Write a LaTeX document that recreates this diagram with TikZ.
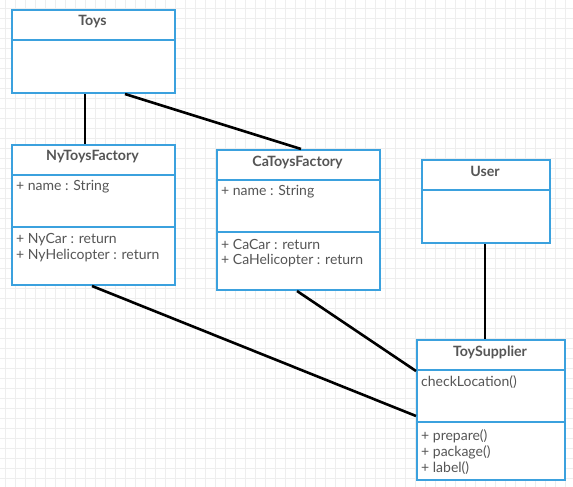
\documentclass[tikz,border=0pt]{standalone}
\usepackage{fontspec}
\setmainfont{Lato}
\usetikzlibrary{positioning}
\definecolor{umlblue}{RGB}{59,161,222}
\definecolor{umltext}{RGB}{85,85,85}
\definecolor{gridgray}{RGB}{238,238,238}
\tikzset{
  classbox/.style={draw=umlblue, line width=2pt, fill=white, anchor=north west, inner sep=0pt},
  title/.style={text=umltext, font=\fontsize{14.2}{16}\selectfont\bfseries},
  member/.style={text=umltext, font=\fontsize{14}{16}\selectfont, anchor=west, inner sep=0pt},
  link/.style={line width=2.6pt, black}
}
\begin{document}
\begin{tikzpicture}[x=1pt,y=-1pt]
        \useasboundingbox (0,0) rectangle (573,487);
        % background grid
        \foreach \gx in {5,15,...,575}
            \draw[gridgray, line width=0.8pt] (\gx,0) -- (\gx,487);
        \foreach \gy in {8,18,...,488}
            \draw[gridgray, line width=0.8pt] (0,\gy) -- (573,\gy);
        % boxes
        \node[classbox, minimum width=163pt, minimum height=83pt] (toys) at (11,9) {};
        \node[classbox, minimum width=163pt, minimum height=140pt] (ny) at (11,144) {};
        \node[classbox, minimum width=163pt, minimum height=140pt] (ca) at (216,149) {};
        \node[classbox, minimum width=128pt, minimum height=83pt] (user) at (421,159) {};
        \node[classbox, minimum width=148pt, minimum height=140pt] (sup) at (416,339) {};
        % dividers
        \draw[umlblue, line width=2pt] (11,40) -- (174,40);
        \draw[umlblue, line width=2pt] (11,175) -- (174,175);
        \draw[umlblue, line width=2pt] (11,227) -- (174,227);
        \draw[umlblue, line width=2pt] (216,180) -- (379,180);
        \draw[umlblue, line width=2pt] (216,232) -- (379,232);
        \draw[umlblue, line width=2pt] (421,190) -- (549,190);
        \draw[umlblue, line width=2pt] (416,370) -- (564,370);
        \draw[umlblue, line width=2pt] (416,422) -- (564,422);
        % texts
        \node[title] (toystitle) at (92.5,22) {Toys};
        \node[title] (nytitle) at (92.5,157) {NyToysFactory};
        \node[member] (nyname) at (16,187) {+ name : String};
        \node[member] (nycar) at (16,240) {+ NyCar : return};
        \node[member] (nyheli) at (16,256) {+ NyHelicopter : return};
        \node[title] (catitle) at (297.5,162) {CaToysFactory};
        \node[member] (caname) at (221,192) {+ name : String};
        \node[member] (cacar) at (221,244) {+ CaCar : return};
        \node[member] (caheli) at (221,261) {+ CaHelicopter : return};
        \node[title] (usertitle) at (485,171) {User};
        \node[title] (suptitle) at (490,352) {ToySupplier};
        \node[member] (check) at (421,382) {checkLocation()};
        \node[member] (prep) at (421,436) {+ prepare()};
        \node[member] (pack) at (421,452) {+ package()};
        \node[member] (lab) at (421,468) {+ label()};
        % links
        \draw[link] ([xshift=-8.5pt]toys.south) -- ([xshift=-8.5pt]ny.north);
        \draw[link] ([xshift=31.5pt]toys.south) -- ([xshift=2.5pt]ca.north);
        \draw[link] ([xshift=-1.5pt]ny.south) -- ([yshift=-6pt]sup.west);
        \draw[link] ([xshift=-1.5pt]ca.south) -- ([yshift=39pt]sup.west);
        \draw[link] ([xshift=-1pt]user.south) -- ([xshift=-6pt]sup.north);
    \end{tikzpicture}
\end{document}
